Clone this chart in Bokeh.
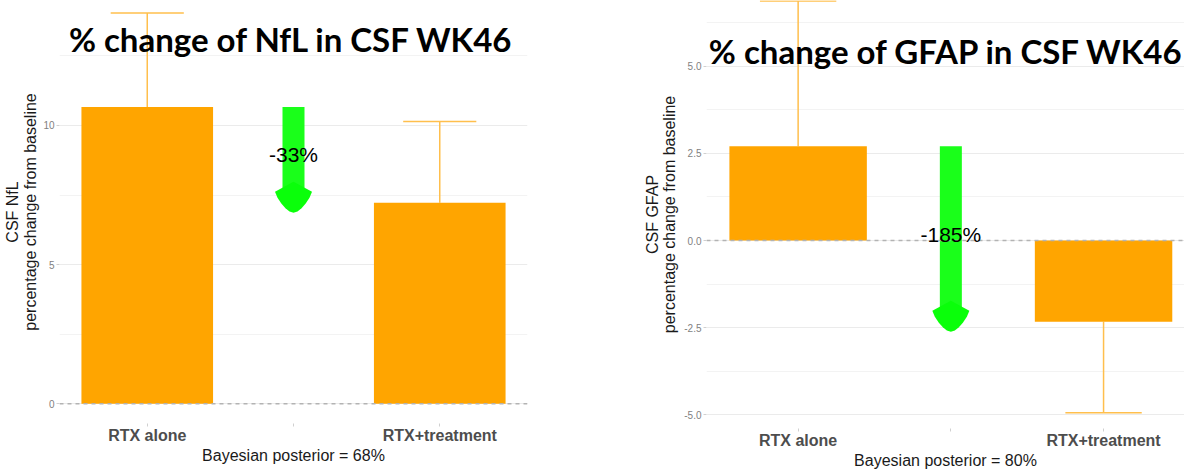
from bokeh.plotting import figure
from bokeh.models import Range1d, FixedTicker, Span, Label
from bokeh.layouts import row
from bokeh.embed import file_html
from bokeh.resources import INLINE

# ---------------- data ----------------
groups = ["RTX alone", "", "RTX+treatment"]
group_pos = [1, 2, 3]

nfl_change = [10.66, 7.22]
nfl_err_end = [14.04, 10.14]
nfl_pct_label = "-33%"
nfl_title = "% change of NfL in CSF WK46"
nfl_ylabel = "CSF NfL\npercentage change from baseline"
nfl_xlabel = "Bayesian posterior = 68%"
nfl_ticks = [0, 5, 10]
nfl_tick_labels = ["0", "5", "10"]
nfl_minor = [2.5, 7.5, 12.5]

gfap_change = [2.70, -2.33]
gfap_err_end = [6.87, -4.94]
gfap_pct_label = "-185%"
gfap_title = "% change of GFAP in CSF WK46"
gfap_ylabel = "CSF GFAP\npercentage change from baseline"
gfap_xlabel = "Bayesian posterior = 80%"
gfap_ticks = [-5.0, -2.5, 0.0, 2.5, 5.0]
gfap_tick_labels = ["-5.0", "-2.5", "0.0", "2.5", "5.0"]
gfap_minor = [-3.75, -1.25, 1.25, 3.75, 6.25]

BAR = "#FFA500"
ERR = "#FFBF4D"
GREEN_SHAFT = "#1AFF1A"
GREEN_HEAD = "#0AFF0A"
FONT = "Liberation Sans"

# arrow-head outline (pixels, relative to arrow end; y downwards)
head_dx = [0, 18.5, 16, 12, 8, 4, 0, -4, -8, -12, -16, -18.5]
head_dy = [-21, -11, -5, 1, 5.5, 8.7, 10, 8.7, 5.5, 1, -5, -11]


def make_panel(title, ylab, xlab, vals, errs, pct, yticks, ylabels, yminor,
               y_range, x_range, fw, fh, bl, br, bb, title_pos, title_size,
               ylab_standoff, ylab_line_height):
    p = figure(x_range=Range1d(*x_range), y_range=Range1d(*y_range),
               frame_width=fw, frame_height=fh,
               min_border_left=bl, min_border_right=br,
               min_border_top=0, min_border_bottom=bb,
               output_backend="svg", toolbar_location=None, title=None)
    p.outline_line_color = None
    p.background_fill_color = "white"
    p.border_fill_color = "white"

    ppx = fw / (x_range[1] - x_range[0])
    ppy = fh / (y_range[1] - y_range[0])

    # grid
    p.xgrid.grid_line_color = None
    yt = FixedTicker(ticks=yticks, minor_ticks=yminor)
    p.yaxis.ticker = yt
    p.ygrid.ticker = yt
    p.ygrid.grid_line_color = "#EBEBEB"
    p.ygrid.grid_line_width = 1
    p.ygrid.minor_grid_line_color = "#F3F3F3"
    p.ygrid.minor_grid_line_width = 1

    # y axis
    ya = p.yaxis[0]
    ya.major_label_overrides = {t: l for t, l in zip(yticks, ylabels)}
    ya.axis_line_color = None
    ya.minor_tick_line_color = None
    ya.major_tick_out = 3
    ya.major_tick_in = 0
    ya.major_tick_line_color = "#D0D0D0"
    ya.major_label_standoff = 1
    ya.major_label_text_font = FONT
    ya.major_label_text_font_size = "10px"
    ya.major_label_text_color = "#7F7F7F"
    ya.axis_label = ylab
    ya.axis_label_text_font = FONT
    ya.axis_label_text_font_size = "16px"
    ya.axis_label_text_font_style = "normal"
    ya.axis_label_text_color = "#1A1A1A"
    ya.axis_label_standoff = ylab_standoff
    ya.axis_label_text_line_height = ylab_line_height

    # x axis
    xa = p.xaxis[0]
    xa.ticker = FixedTicker(ticks=group_pos)
    xa.major_label_overrides = {g: l for g, l in zip(group_pos, groups)}
    xa.axis_line_color = None
    xa.minor_tick_line_color = None
    xa.major_tick_out = 3
    xa.major_tick_in = 0
    xa.major_tick_line_color = "#D0D0D0"
    xa.major_label_standoff = 0
    xa.major_label_text_font = FONT
    xa.major_label_text_font_size = "16px"
    xa.major_label_text_font_style = "bold"
    xa.major_label_text_color = "#4D4D4D"
    xa.axis_label = xlab
    xa.axis_label_text_font = FONT
    xa.axis_label_text_font_size = "16px"
    xa.axis_label_text_font_style = "normal"
    xa.axis_label_text_color = "#1A1A1A"
    xa.axis_label_standoff = 0

    bx = [group_pos[0], group_pos[2]]
    mid = group_pos[1]

    # error bars
    p.segment(x0=bx, y0=vals, x1=bx, y1=errs, line_color=ERR, line_width=1.5)
    p.segment(x0=[x - 0.25 for x in bx], y0=errs, x1=[x + 0.25 for x in bx], y1=errs,
              line_color=ERR, line_width=1.5)
    # bars
    p.vbar(x=bx, top=vals, bottom=0, width=0.9, fill_color=BAR, line_color=None)

    # zero line
    p.add_layout(Span(location=0, dimension="width", line_dash="4 4",
                      line_color="#B3B3B3", line_width=1.5))

    # arrow between the two bar values
    p.segment(x0=[mid], y0=[vals[0]], x1=[mid], y1=[vals[1]],
              line_color=GREEN_SHAFT, line_width=22, line_cap="butt")
    hx = [mid + d / ppx for d in head_dx]
    hy = [vals[1] - d / ppy for d in head_dy]
    p.patch(hx, hy, fill_color=GREEN_HEAD, line_color=None)

    p.add_layout(Label(x=mid, y=(vals[0] + vals[1]) / 2, text=pct,
                       text_align="center", text_baseline="middle",
                       text_font=FONT, text_font_size="21px", text_color="black"))

    # overlaid slide title
    tx = x_range[0] + title_pos[0] / ppx
    ty = y_range[1] - title_pos[1] / ppy
    p.add_layout(Label(x=tx, y=ty, text=title, text_align="center",
                       text_baseline="middle", text_font="Lato",
                       text_font_style="bold", text_font_size=title_size,
                       text_color="black"))
    return p


p1 = make_panel(nfl_title, nfl_ylabel, nfl_xlabel, nfl_change, nfl_err_end,
                nfl_pct_label, nfl_ticks, nfl_tick_labels, nfl_minor,
                y_range=(-0.710, 14.49), x_range=(0.4, 3.6),
                fw=468, fh=423, bl=52, br=92, bb=42,
                title_pos=(232, 38), title_size="33px",
                ylab_standoff=1, ylab_line_height=1.1)

p2 = make_panel(gfap_title, gfap_ylabel, gfap_xlabel, gfap_change, gfap_err_end,
                gfap_pct_label, gfap_ticks, gfap_tick_labels, gfap_minor,
                y_range=(-5.39, 6.881), x_range=(0.4, 3.53),
                fw=478, fh=428, bl=87, br=0, bb=41,
                title_pos=(240, 50), title_size="33px",
                ylab_standoff=3, ylab_line_height=1.0)

layout = row(p1, p2)
open("out.html", "w").write(file_html(layout, INLINE))
